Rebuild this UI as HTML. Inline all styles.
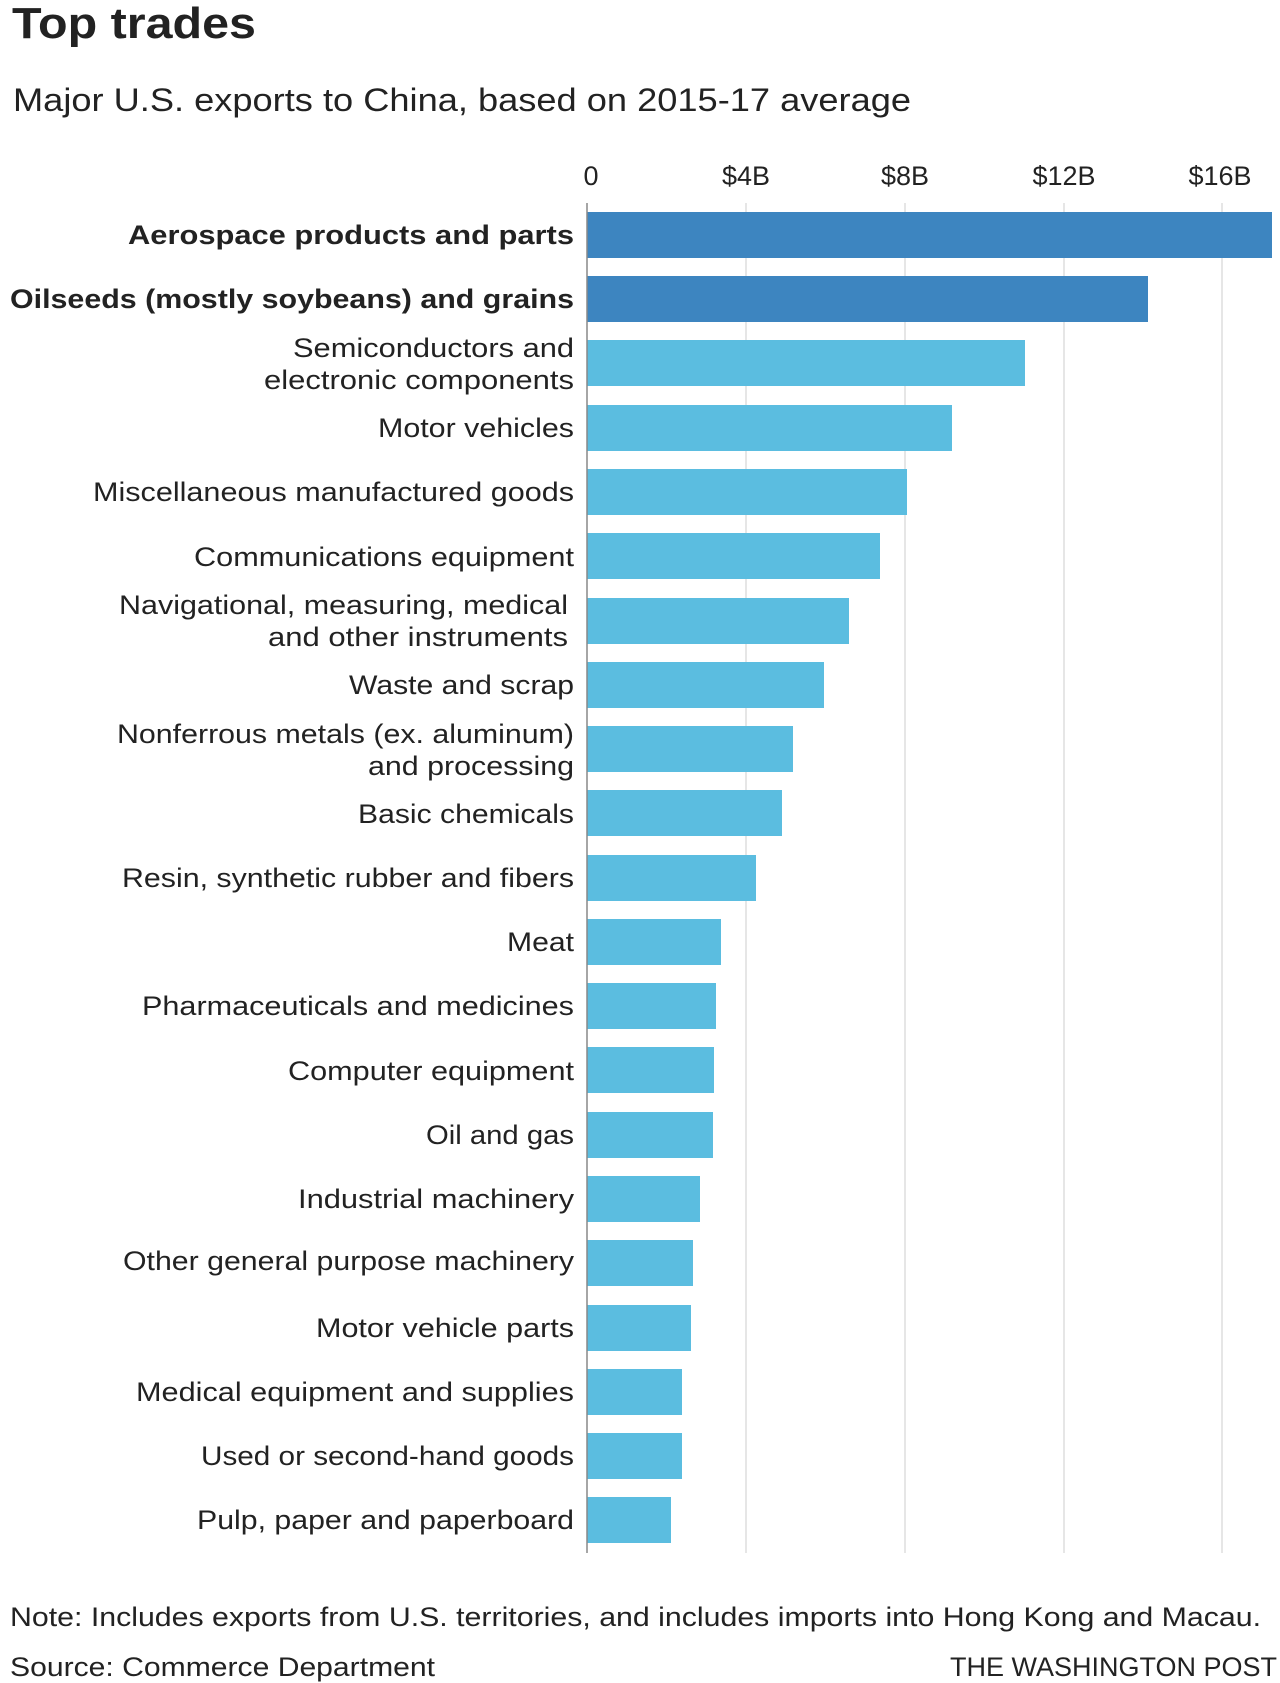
<!DOCTYPE html>
<html><head><meta charset="utf-8"><style>
html,body{margin:0;padding:0;background:#fff;}
svg{display:block;}
text{font-family:"Liberation Sans",sans-serif;fill:#222;}
</style></head><body>
<svg width="1280" height="1683" xmlns="http://www.w3.org/2000/svg">
<text x="12" y="38" font-size="44" font-weight="bold" fill="#111" textLength="244" lengthAdjust="spacingAndGlyphs">Top trades</text>
<text x="13" y="111" font-size="32" fill="#333" textLength="898" lengthAdjust="spacingAndGlyphs">Major U.S. exports to China, based on 2015-17 average</text>
<g font-size="27" text-anchor="middle" fill="#333">
<text x="591" y="185">0</text><text x="746" y="185">$4B</text><text x="905" y="185">$8B</text><text x="1064" y="185">$12B</text><text x="1220" y="185">$16B</text>
</g>
<g stroke="#ddd" stroke-width="1.5">
<line x1="746" y1="203" x2="746" y2="1553"/><line x1="905" y1="203" x2="905" y2="1553"/><line x1="1064" y1="203" x2="1064" y2="1553"/><line x1="1222" y1="203" x2="1222" y2="1553"/>
</g>
<g>
<rect x="587" y="212" width="685" height="46" fill="#3d85c0"/>
<rect x="587" y="276" width="561" height="46" fill="#3d85c0"/>
<rect x="587" y="340" width="438" height="46" fill="#5bbde0"/>
<rect x="587" y="405" width="365" height="46" fill="#5bbde0"/>
<rect x="587" y="469" width="320" height="46" fill="#5bbde0"/>
<rect x="587" y="533" width="293" height="46" fill="#5bbde0"/>
<rect x="587" y="598" width="262" height="46" fill="#5bbde0"/>
<rect x="587" y="662" width="237" height="46" fill="#5bbde0"/>
<rect x="587" y="726" width="206" height="46" fill="#5bbde0"/>
<rect x="587" y="790" width="195" height="46" fill="#5bbde0"/>
<rect x="587" y="855" width="169" height="46" fill="#5bbde0"/>
<rect x="587" y="919" width="134" height="46" fill="#5bbde0"/>
<rect x="587" y="983" width="129" height="46" fill="#5bbde0"/>
<rect x="587" y="1047" width="127" height="46" fill="#5bbde0"/>
<rect x="587" y="1112" width="126" height="46" fill="#5bbde0"/>
<rect x="587" y="1176" width="113" height="46" fill="#5bbde0"/>
<rect x="587" y="1240" width="106" height="46" fill="#5bbde0"/>
<rect x="587" y="1305" width="104" height="46" fill="#5bbde0"/>
<rect x="587" y="1369" width="95" height="46" fill="#5bbde0"/>
<rect x="587" y="1433" width="95" height="46" fill="#5bbde0"/>
<rect x="587" y="1497" width="84" height="46" fill="#5bbde0"/>
</g>
<line x1="587" y1="203" x2="587" y2="1553" stroke="#888" stroke-width="1.5"/>
<g font-size="27" text-anchor="end" fill="#222" lengthAdjust="spacingAndGlyphs">
<text x="574" y="244" font-weight="bold" fill="#111" textLength="446" lengthAdjust="spacingAndGlyphs">Aerospace products and parts</text>
<text x="574" y="308" font-weight="bold" fill="#111" textLength="564" lengthAdjust="spacingAndGlyphs">Oilseeds (mostly soybeans) and grains</text>
<text x="574" y="357" textLength="281" lengthAdjust="spacingAndGlyphs">Semiconductors and</text>
<text x="574" y="389" textLength="310" lengthAdjust="spacingAndGlyphs">electronic components</text>
<text x="574" y="437" textLength="196" lengthAdjust="spacingAndGlyphs">Motor vehicles</text>
<text x="574" y="501" textLength="481" lengthAdjust="spacingAndGlyphs">Miscellaneous manufactured goods</text>
<text x="574" y="566" textLength="380" lengthAdjust="spacingAndGlyphs">Communications equipment</text>
<text x="568" y="614" textLength="449" lengthAdjust="spacingAndGlyphs">Navigational, measuring, medical</text>
<text x="568" y="646" textLength="300" lengthAdjust="spacingAndGlyphs">and other instruments</text>
<text x="574" y="694" textLength="225" lengthAdjust="spacingAndGlyphs">Waste and scrap</text>
<text x="574" y="743" textLength="457" lengthAdjust="spacingAndGlyphs">Nonferrous metals (ex. aluminum)</text>
<text x="574" y="775" textLength="206" lengthAdjust="spacingAndGlyphs">and processing</text>
<text x="574" y="823" textLength="216" lengthAdjust="spacingAndGlyphs">Basic chemicals</text>
<text x="574" y="887" textLength="452" lengthAdjust="spacingAndGlyphs">Resin, synthetic rubber and fibers</text>
<text x="574" y="951" textLength="67" lengthAdjust="spacingAndGlyphs">Meat</text>
<text x="574" y="1015" textLength="432" lengthAdjust="spacingAndGlyphs">Pharmaceuticals and medicines</text>
<text x="574" y="1080" textLength="286" lengthAdjust="spacingAndGlyphs">Computer equipment</text>
<text x="574" y="1144" textLength="148" lengthAdjust="spacingAndGlyphs">Oil and gas</text>
<text x="574" y="1208" textLength="276" lengthAdjust="spacingAndGlyphs">Industrial machinery</text>
<text x="574" y="1270" textLength="451" lengthAdjust="spacingAndGlyphs">Other general purpose machinery</text>
<text x="574" y="1337" textLength="258" lengthAdjust="spacingAndGlyphs">Motor vehicle parts</text>
<text x="574" y="1401" textLength="438" lengthAdjust="spacingAndGlyphs">Medical equipment and supplies</text>
<text x="574" y="1465" textLength="373" lengthAdjust="spacingAndGlyphs">Used or second-hand goods</text>
<text x="574" y="1529" textLength="377" lengthAdjust="spacingAndGlyphs">Pulp, paper and paperboard</text>
</g>
<text x="10" y="1626" font-size="27" fill="#333" textLength="1251" lengthAdjust="spacingAndGlyphs">Note: Includes exports from U.S. territories, and includes imports into Hong Kong and Macau.</text>
<text x="10" y="1676" font-size="27" fill="#333" textLength="425" lengthAdjust="spacingAndGlyphs">Source: Commerce Department</text>
<text x="1277" y="1676" font-size="27" fill="#333" text-anchor="end" textLength="327" lengthAdjust="spacingAndGlyphs">THE WASHINGTON POST</text>
</svg>
</body></html>
